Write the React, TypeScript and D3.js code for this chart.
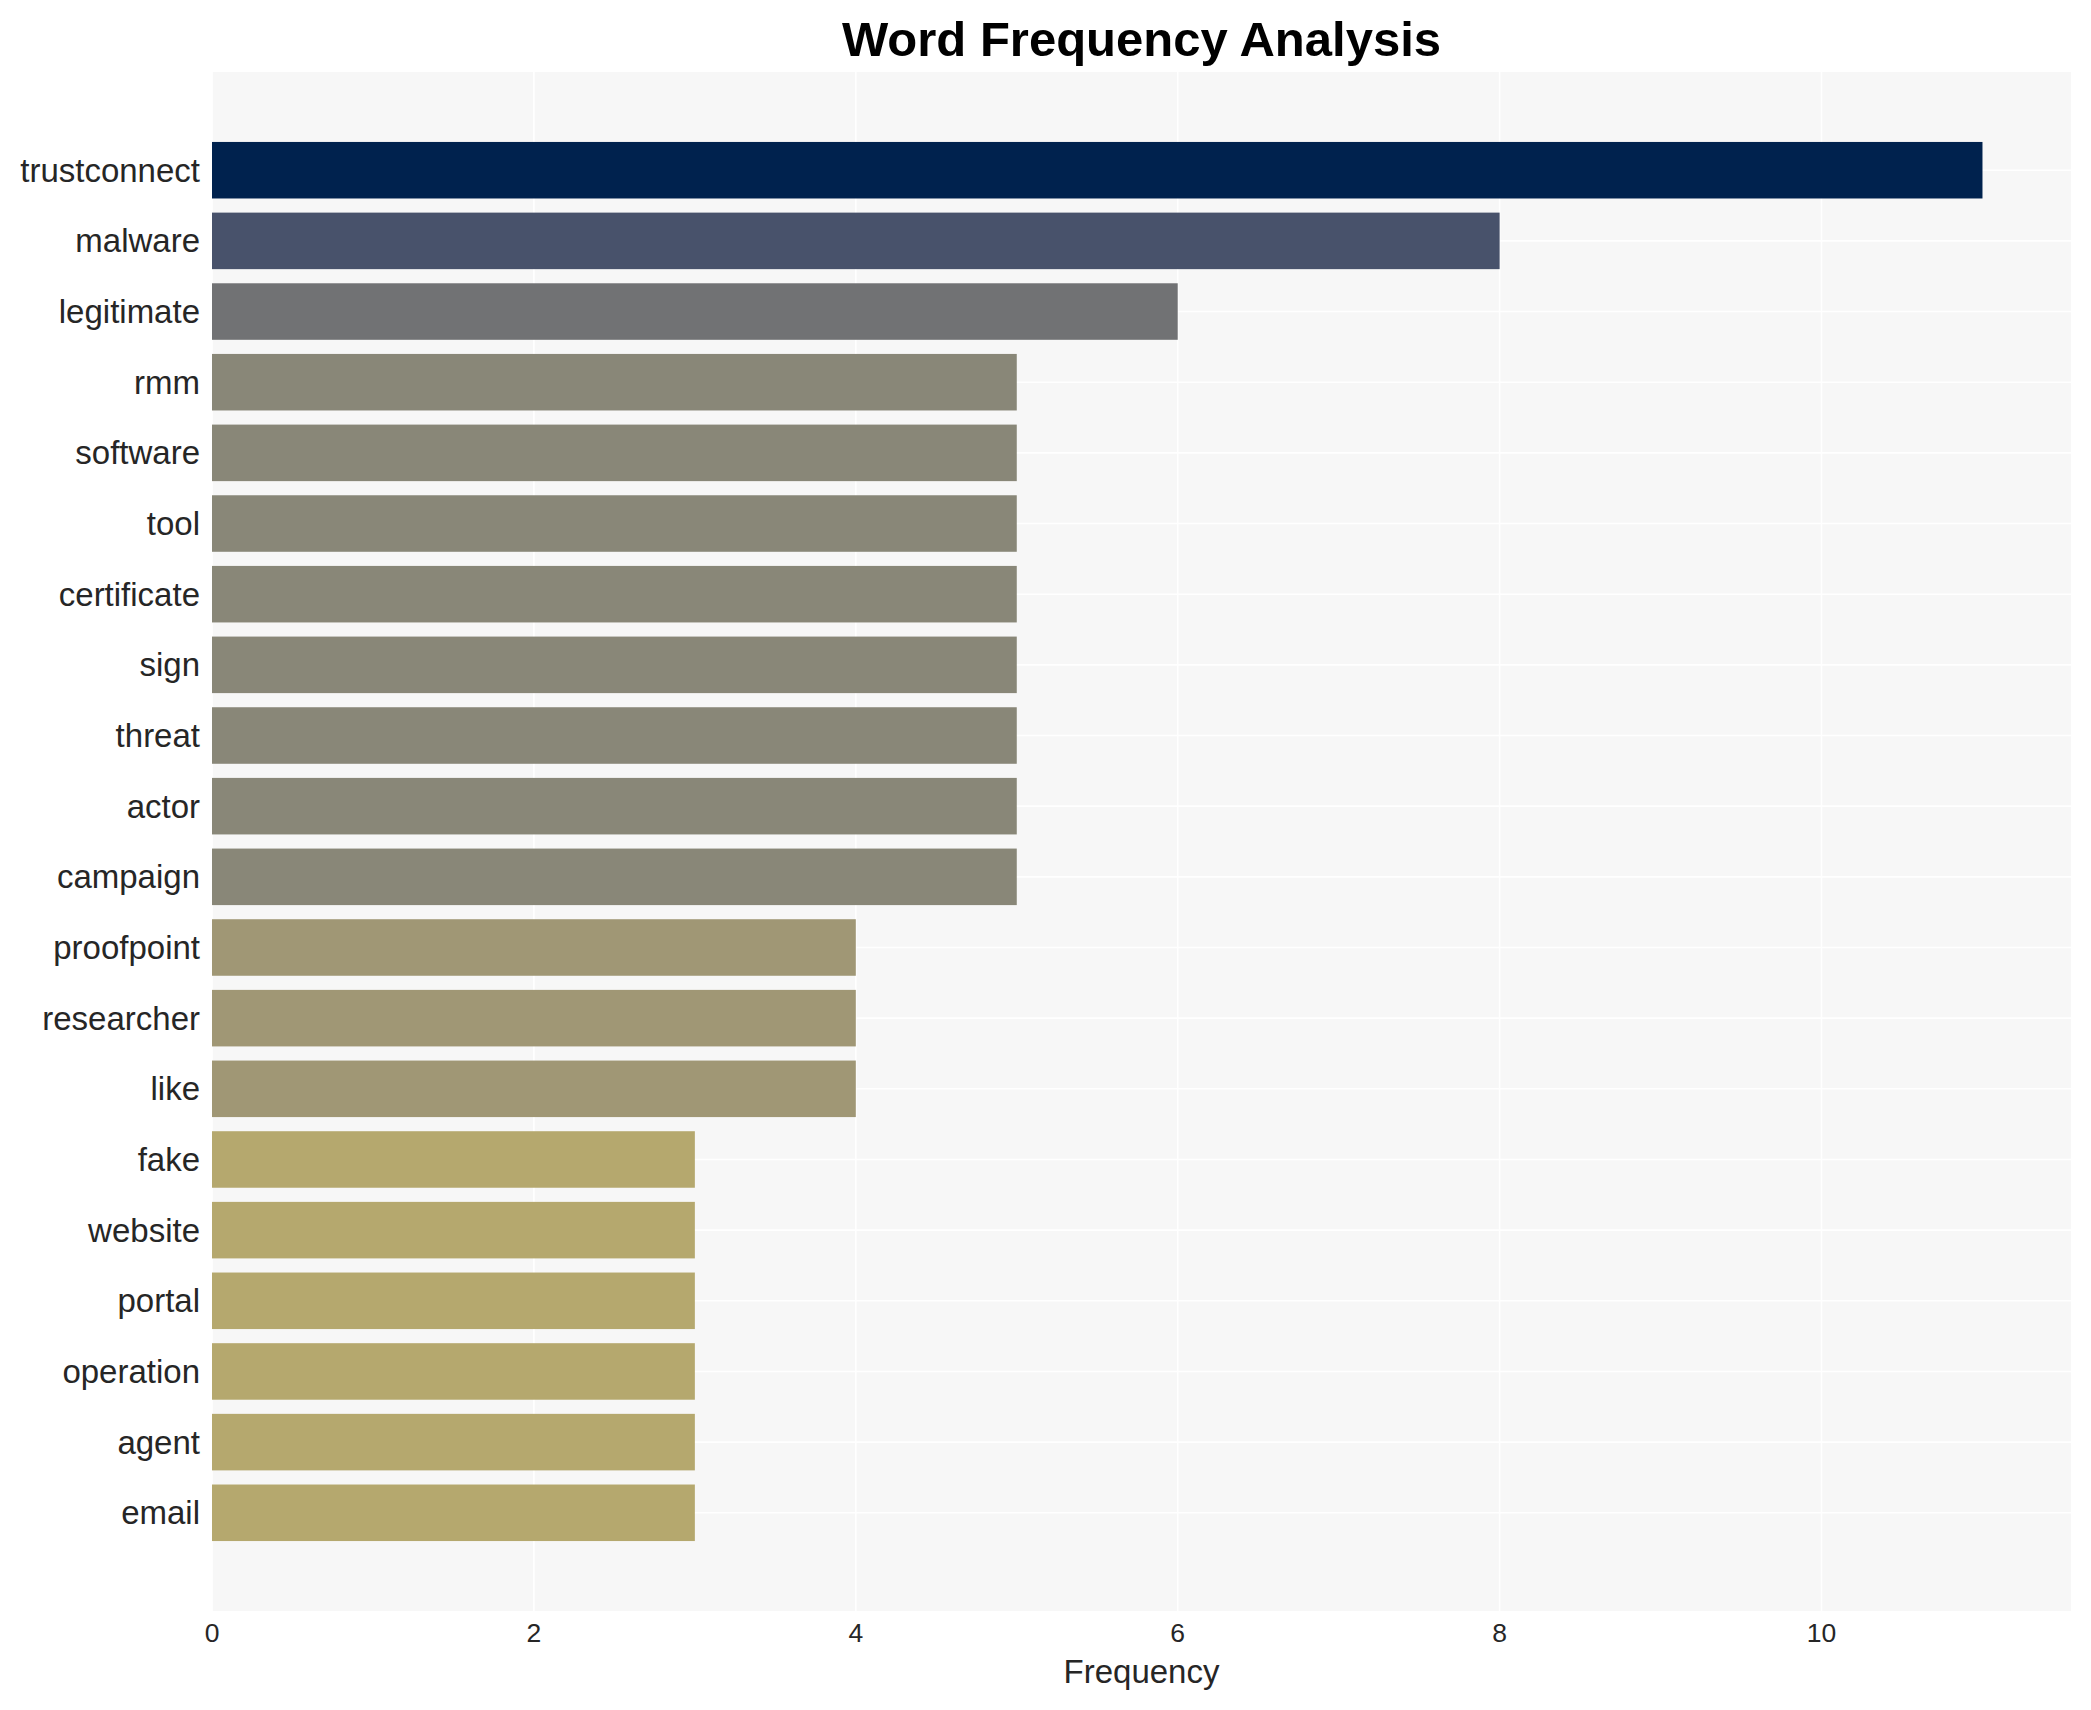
import React, { useEffect } from 'react';
import * as d3 from 'd3';

const words = [
  'trustconnect', 'malware', 'legitimate', 'rmm', 'software', 'tool', 'certificate',
  'sign', 'threat', 'actor', 'campaign', 'proofpoint', 'researcher', 'like',
  'fake', 'website', 'portal', 'operation', 'agent', 'email',
];
const counts = [11, 8, 6, 5, 5, 5, 5, 5, 5, 5, 5, 4, 4, 4, 3, 3, 3, 3, 3, 3];
const xTicks = [0, 2, 4, 6, 8, 10];

const W = 2091;
const H = 1710;
const margin = { top: 72, right: 20, bottom: 99, left: 212 };
const FONT = '"Liberation Sans", Arial, Helvetica, sans-serif';

// cividis-like shades
const colour = d3.scaleOrdinal<number, string>()
  .domain([11, 8, 6, 5, 4, 3])
  .range(['#00224e', '#48526b', '#717274', '#898778', '#a09775', '#b5a86e']);

const App: React.FC = () => {
  useEffect(() => {
    document.body.style.margin = '0';
  }, []);

  const innerW = W - margin.left - margin.right;
  const innerH = H - margin.top - margin.bottom;
  const maxCount = d3.max(counts) ?? 1;

  // matplotlib style 5% margin on the value axis
  const x = d3.scaleLinear().domain([0, maxCount * 1.05]).range([0, innerW]);

  const y = d3.scaleBand<string>()
    .domain(words)
    .range([0, innerH])
    .paddingInner(0.2)
    .paddingOuter(0.99);

  return (
    <svg width={W} height={H} style={{ display: 'block', background: '#fff' }} fontFamily={FONT}>
      <text
        x={margin.left + innerW / 2}
        y={56}
        textAnchor="middle"
        fontSize={49}
        fontWeight="bold"
        fill="#000"
      >
        Word Frequency Analysis
      </text>

      <g transform={`translate(${margin.left},${margin.top})`}>
        <rect width={innerW} height={innerH} fill="#f7f7f7" />

        {xTicks.map(t => (
          <line key={`gx${t}`} x1={x(t)} x2={x(t)} y1={0} y2={innerH} stroke="#fff" strokeWidth={1.6} />
        ))}
        {words.map(w => (
          <line
            key={`gy${w}`}
            x1={0}
            x2={innerW}
            y1={(y(w) ?? 0) + y.bandwidth() / 2}
            y2={(y(w) ?? 0) + y.bandwidth() / 2}
            stroke="#fff"
            strokeWidth={1.6}
          />
        ))}

        {words.map((w, i) => (
          <rect
            key={w}
            x={x(0)}
            y={y(w)}
            width={x(counts[i]) - x(0)}
            height={y.bandwidth()}
            fill={colour(counts[i])}
          />
        ))}

        {words.map(w => (
          <text
            key={`yl${w}`}
            x={-12}
            y={(y(w) ?? 0) + y.bandwidth() / 2}
            dy="0.35em"
            textAnchor="end"
            fontSize={33}
            fill="#262626"
          >
            {w}
          </text>
        ))}

        {xTicks.map(t => (
          <text key={`xl${t}`} x={x(t)} y={innerH + 31} textAnchor="middle" fontSize={26.5} fill="#262626">
            {t}
          </text>
        ))}

        <text x={innerW / 2} y={innerH + 72} textAnchor="middle" fontSize={33} fill="#262626">
          Frequency
        </text>
      </g>
    </svg>
  );
};

export default App;
